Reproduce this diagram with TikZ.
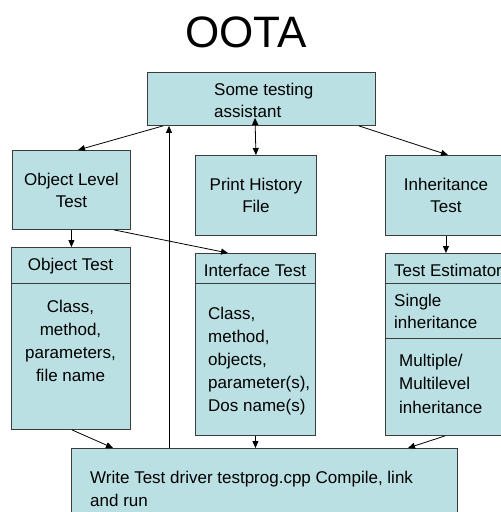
\documentclass[tikz,border=0pt]{standalone}
\usepackage{fontspec}
\setmainfont{Liberation Sans}
\usetikzlibrary{arrows.meta,calc}
\definecolor{boxfill}{RGB}{186,224,227}
\definecolor{boxline}{RGB}{60,60,60}
\begin{document}
\begin{tikzpicture}[x=1pt,y=-1pt,
 box/.style={draw=boxline, fill=boxfill, line width=0.9pt, inner sep=0pt, anchor=north west, align=center, font=\fontsize{17}{22}\selectfont},
 divider/.style={draw=boxline, line width=0.9pt},
 txt/.style={inner sep=0pt, font=\fontsize{17}{23}\selectfont},
 arr/.style={draw=black, line width=0.8pt, -{Triangle[length=7pt,width=6pt]}},
 darr/.style={draw=black, line width=0.8pt, {Triangle[length=7pt,width=6pt]}-{Triangle[length=7pt,width=6pt]}},
]
\useasboundingbox (0,0) rectangle (501,512);
\fill[white] (0,0) rectangle (501,512);

% title
\node[inner sep=0pt, anchor=base, font=\fontsize{44}{44}\selectfont] (title) at (246,47) {OOTA};

% top box
\node[box, minimum width=228pt, minimum height=53pt] (top) at (147,72) {};
\node[txt, anchor=base west, align=left, font=\fontsize{17}{22}\selectfont] (topT) at (214,117) {Some testing\\assistant};

% second row
\node[box, minimum width=118pt, minimum height=79pt] (olt) at (12,150) {Object Level\\Test};
\node[box, minimum width=121pt, minimum height=80pt] (phf) at (195,155) {Print History\\File};
\node[box, minimum width=121pt, minimum height=80pt] (inh) at (385,155) {Inheritance\\Test};

% Object Test
\node[box, minimum width=119pt, minimum height=182pt] (ot) at (11,247) {};
\draw[divider] ([yshift=-36pt]ot.north west) -- ([yshift=-36pt]ot.north east);
\node[txt, anchor=base] (otH) at (70.5,270) {Object Test};
\node[txt, anchor=base, align=center] (otB) at (70.5,381) {Class,\\method,\\parameters,\\file name};

% Interface Test
\node[box, minimum width=120pt, minimum height=182pt] (it) at (195,253) {};
\draw[divider] ([yshift=-30pt]it.north west) -- ([yshift=-30pt]it.north east);
\node[txt, anchor=base] (itH) at (255,276) {Interface Test};
\node[txt, anchor=base west, align=left] (itB) at (208,411) {Class,\\method,\\objects,\\parameter(s),\\Dos name(s)};

% Test Estimator
\node[box, minimum width=121pt, minimum height=182pt] (te) at (385,253) {};
\draw[divider] ([yshift=-30pt]te.north west) -- ([yshift=-30pt]te.north east);
\draw[divider] ([yshift=-85pt]te.north west) -- ([yshift=-85pt]te.north east);
\node[txt, anchor=base west] (teH) at (394,276) {Test Estimator};
\node[txt, anchor=base west, align=left, font=\fontsize{17}{22}\selectfont] (teS) at (394,328) {Single\\inheritance};
\node[txt, anchor=base west, align=left, font=\fontsize{17}{23.5}\selectfont] (teM) at (399,413) {Multiple/\\Multilevel\\inheritance};

% bottom box
\node[box, minimum width=386pt, minimum height=70pt] (drv) at (71,448) {};
\node[txt, anchor=base west, align=left] (drvT) at (90,506) {Write Test driver testprog.cpp Compile, link\\and run};

% connectors
\draw[arr] ([xshift=16pt]top.south west) -- ([xshift=66pt]olt.north west);
\draw[arr] ([xshift=98pt]drv.north west) -- ([xshift=22pt]top.south west);
\draw[darr] ([xshift=108pt,yshift=8pt]top.south west) -- (phf.north);
\draw[arr] ([xshift=-17pt]top.south east) -- ([xshift=63pt]inh.north west);
\draw[arr] (olt.south) -- (olt.south |- ot.north);
\draw[arr] ([xshift=102pt]olt.south west) -- ([xshift=33pt]it.north west);
\draw[arr] (inh.south) -- (inh.south |- te.north);
\draw[arr] ([xshift=61pt]ot.south west) -- ([xshift=42pt]drv.north west);
\draw[arr] (it.south) -- (it.south |- drv.north);
\draw[arr] ([xshift=60pt]te.south west) -- ([xshift=337pt]drv.north west);
\end{tikzpicture}
\end{document}
